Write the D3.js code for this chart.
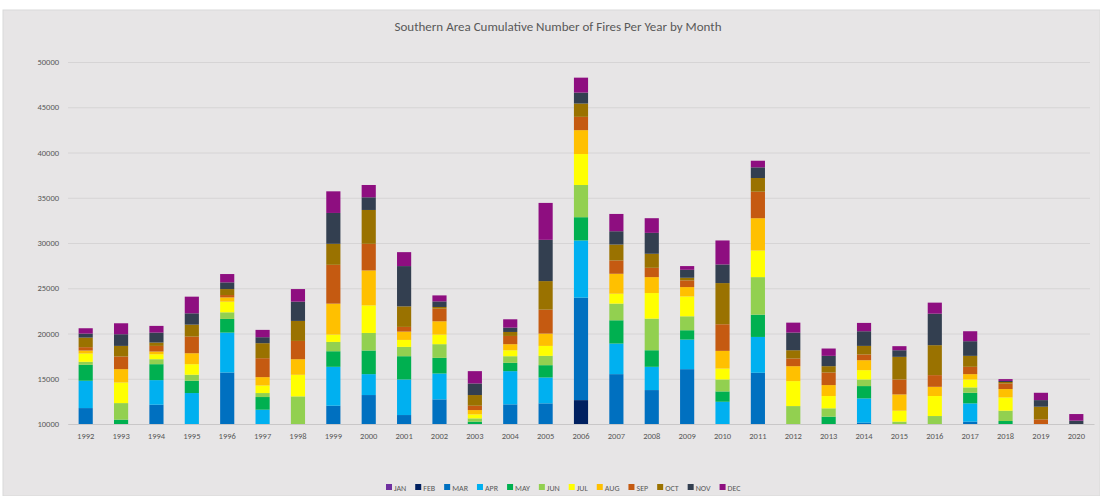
<!DOCTYPE html>
<html>
<head>
<meta charset="utf-8">
<script src="https://d3js.org/d3.v7.min.js"></script>
<style>
  body { margin: 0; background: #fff; }
  text { font-family: Calibri, Carlito, "Liberation Sans", sans-serif; fill: #595959; }
</style>
</head>
<body>
<script>
'use strict';

// categories
const years = ['1992', '1993', '1994', '1995', '1996', '1997', '1998', '1999', '2000', '2001',
  '2002', '2003', '2004', '2005', '2006', '2007', '2008', '2009', '2010', '2011',
  '2012', '2013', '2014', '2015', '2016', '2017', '2018', '2019', '2020'];
const months = ['JAN', 'FEB', 'MAR', 'APR', 'MAY', 'JUN', 'JUL', 'AUG', 'SEP', 'OCT', 'NOV', 'DEC'];
const monthColors = ['#7030a0', '#002060', '#0070c0', '#00b0f0', '#00b050', '#92d050',
  '#ffff00', '#ffc000', '#c55a11', '#9a7200', '#333f50', '#8e0e80'];
const yTicks = [10000, 15000, 20000, 25000, 30000, 35000, 40000, 45000, 50000];

// fires per month, one value per year (1992 .. 2020)
const jan = [2600, 2200, 2400, 2500, 2800, 2300, 1900, 2600, 2700, 2400, 2500, 1800, 2200, 2600, 5600,
  3000, 2800, 3100, 2300, 3200, 1900, 1800, 2000, 1800, 2000, 2300, 1700, 1500, 1300];
const feb = [2800, 2400, 2600, 2700, 3200, 2500, 2100, 3000, 3300, 2800, 2900, 2400, 2800, 2900, 7040,
  3400, 3300, 3400, 2600, 3600, 2100, 2200, 2500, 2100, 2200, 2600, 2100, 1700, 1600];
const mar = [6360, 3000, 7130, 4100, 9690, 3400, 2800, 6420, 7200, 5790, 7320, 3200, 7170, 6780, 11320,
  9110, 7650, 9560, 3600, 8860, 2600, 2800, 5650, 2400, 2700, 5360, 2600, 2000, 1700];
const apr = [3020, 2100, 2720, 4120, 4410, 3380, 1800, 4300, 2310, 3930, 2860, 2000, 3670, 2860, 6320,
  3380, 2570, 3270, 3960, 3960, 1900, 2500, 2680, 1900, 1800, 2020, 2500, 1600, 1300];
const may = [1760, 780, 1760, 1360, 1510, 1400, 1100, 1720, 2610, 2570, 1730, 860, 920, 1360, 2570,
  2570, 1830, 1030, 1140, 2460, 1100, 1510, 1360, 1300, 1100, 1170, 1430, 1100, 900];
const jun = [330, 1830, 550, 660, 730, 440, 3350, 1030, 1940, 1030, 1510, 360, 730, 1030, 3560,
  1840, 3490, 1540, 1320, 4150, 2380, 920, 730, 760, 1080, 590, 1140, 700, 700];
const jul = [920, 2280, 550, 1170, 1180, 840, 2390, 810, 3050, 770, 1060, 450, 660, 1100, 3420,
  1100, 2830, 2200, 1210, 2940, 2760, 1360, 1030, 1210, 2210, 880, 1470, 700, 600];
const aug = [330, 1470, 300, 1210, 470, 920, 1720, 3420, 3860, 920, 1470, 470, 670, 1360, 2640,
  2200, 1760, 1030, 1950, 3570, 1650, 1210, 1100, 1800, 1020, 590, 920, 600, 600];
const sep = [370, 1400, 620, 1840, 260, 2090, 2020, 4290, 2940, 520, 1400, 480, 910, 2650, 1470,
  1470, 1030, 740, 2940, 2930, 850, 1390, 630, 1650, 1290, 810, 620, 610, 500];
const oct = [1060, 1170, 370, 1320, 660, 1660, 2210, 2320, 3740, 2270, 180, 1180, 440, 3150, 1470,
  1760, 1550, 290, 4550, 1510, 910, 700, 950, 2500, 3310, 1210, 160, 1400, 500];
const nov = [440, 1290, 1100, 1250, 740, 660, 2130, 3410, 1400, 4450, 620, 1280, 480, 4560, 1210,
  1470, 2310, 880, 2060, 1180, 1950, 1140, 1620, 730, 3480, 1620, 120, 730, 670];
const dec = [590, 1210, 740, 1840, 920, 810, 1390, 2390, 1360, 1540, 660, 1360, 920, 4080, 1650,
  1910, 1620, 410, 2650, 730, 1100, 810, 920, 450, 1220, 1100, 200, 810, 730];

(function () {

  let svgContainer = "";
  const monthSeries = [jan, feb, mar, apr, may, jun, jul, aug, sep, oct, nov, dec];

  window.onload = function () {
    svgContainer = d3.select('body')
      .append('svg')
      .attr('width', 1100)
      .attr('height', 496);

    // grey chart panel
    svgContainer.append('rect')
      .attr('x', 3)
      .attr('y', 10)
      .attr('width', 1097)
      .attr('height', 486)
      .attr('fill', '#e7e5e6')
      .attr('stroke', '#d9d9d9');

    // one row per year for d3.stack
    let table = years.map((yr, i) => {
      let row = { year: yr };
      months.forEach((m, j) => { row[m] = monthSeries[j][i]; });
      return row;
    });

    let scales = drawAxes();
    plotBars(table, scales);
    makeLabels();
  }

  // gridlines, tick labels
  function drawAxes() {
    let xScale = d3.scaleBand()
      .domain(years)
      .range([68, 1094])
      .paddingInner(0.6)
      .paddingOuter(0.3);

    // axis starts at 10000, lower values are cut off
    let yScale = d3.scaleLinear()
      .domain([10000, 50000])
      .range([424, 62])
      .clamp(true);

    let yAxis = d3.axisLeft(yScale)
      .tickValues(yTicks)
      .tickSize(-1022)
      .tickPadding(9)
      .tickFormat(d => d);
    let gy = svgContainer.append('g')
      .attr('transform', 'translate(68, 0)')
      .call(yAxis);
    gy.select('.domain').remove();
    gy.selectAll('line').attr('stroke', '#d6d4d5');
    gy.selectAll('text').style('font-size', '8.5px').attr('fill', '#595959');

    let xAxis = d3.axisBottom(xScale).tickSize(0).tickPadding(9);
    let gx = svgContainer.append('g')
      .attr('transform', 'translate(0, 424)')
      .call(xAxis);
    gx.select('.domain').attr('stroke', '#c9c7c8');
    gx.selectAll('text').style('font-size', '8.5px').attr('fill', '#595959');

    return { x: xScale, y: yScale };
  }

  // stacked bars
  function plotBars(table, map) {
    let stacked = d3.stack().keys(months)(table);

    svgContainer.append('g')
      .selectAll('g')
      .data(stacked)
      .enter()
      .append('g')
      .attr('fill', (d, i) => monthColors[i])
      .selectAll('rect')
      .data(d => d)
      .enter()
      .append('rect')
      .attr('x', d => map.x(d.data.year))
      .attr('width', map.x.bandwidth())
      .attr('y', d => map.y(d[1]))
      .attr('height', d => map.y(d[0]) - map.y(d[1]));
  }

  // title and legend
  function makeLabels() {
    svgContainer.append('text')
      .attr('x', 558)
      .attr('y', 31)
      .attr('text-anchor', 'middle')
      .style('font-size', '13px')
      .text('Southern Area Cumulative Number of Fires Per Year by Month');

    let legend = svgContainer.append('g')
      .attr('transform', 'translate(386, 484)');

    let xPos = 0;
    months.forEach((m, i) => {
      legend.append('rect')
        .attr('x', xPos)
        .attr('y', 0)
        .attr('width', 6)
        .attr('height', 6)
        .attr('fill', monthColors[i]);
      let label = legend.append('text')
        .attr('x', xPos + 8)
        .attr('y', 6.5)
        .style('font-size', '8px')
        .text(m);
      xPos += 8 + label.node().getComputedTextLength() + 9;
    });
  }
})();
</script>
</body>
</html>
